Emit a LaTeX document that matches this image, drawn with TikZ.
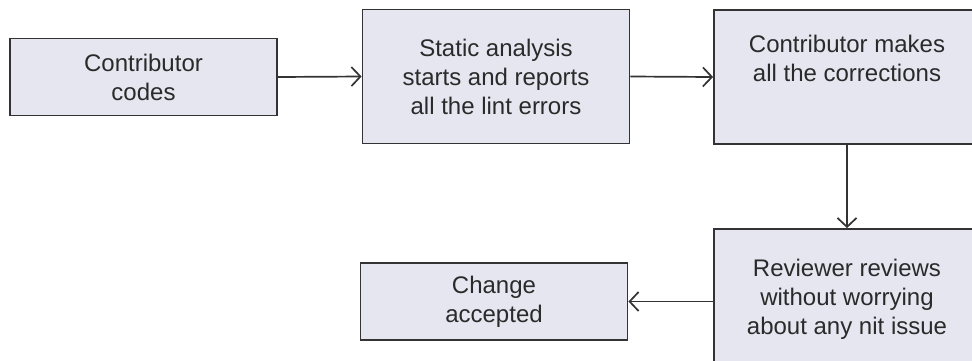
\documentclass[tikz,border=0pt]{standalone}
\usepackage{fontspec}
\setmainfont{Liberation Sans}
\usetikzlibrary{arrows.meta}
\definecolor{boxfill}{HTML}{E6E6F1}
\definecolor{boxline}{HTML}{333333}
\definecolor{ink}{HTML}{2A2A2A}
\begin{document}
\begin{tikzpicture}[x=1pt,y=-1pt,
  flowbox/.style={draw=boxline, fill=boxfill, line width=1.8pt, inner sep=0pt,
    minimum width=267pt, align=center, text=ink,
    font=\fontsize{24}{29}\selectfont},
  flowarrow/.style={draw=boxline, line width=1.7pt,
    -{Straight Barb[length=9pt,width=19pt,line width=1.7pt]}}]
  \useasboundingbox (0,0) rectangle (972,360);
  \clip (0,0) rectangle (972,360);
  \fill[white] (0,0) rectangle (972,360);

  % first row: submission, lint report, corrections
  \node[flowbox, minimum height=77pt] (codes) at (143.5,77) {Contributor\\codes};
  \node[flowbox, minimum height=134pt] (lint) at (496,76.5)
    {Static analysis\\starts and reports\\all the lint errors};
  \node[flowbox, minimum height=134pt, minimum width=266pt] (fix) at (847,77)
    {Contributor makes\\all the corrections\\\strut};

  % second row: review, acceptance
  \node[flowbox, minimum height=140pt, minimum width=266pt] (review) at (847,299)
    {Reviewer reviews\\without worrying\\about any nit issue};
  \node[flowbox, minimum height=77pt] (done) at (494,301.5) {Change\\accepted};

  \draw[flowarrow] (codes.east) -- (lint.west);
  \draw[flowarrow] (lint.east) -- (fix.west);
  \draw[flowarrow] (fix.south) -- (review.north);
  \draw[flowarrow] (review.west |- done.east) -- (done.east);
\end{tikzpicture}
\end{document}
